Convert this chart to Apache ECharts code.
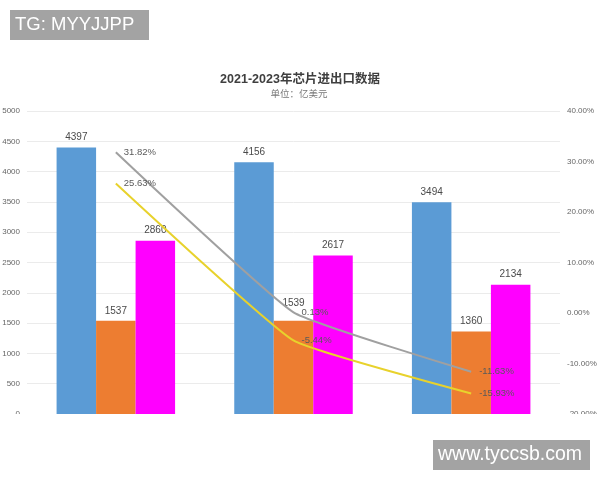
<!DOCTYPE html>
<html lang="zh">
<head>
    <meta charset="UTF-8">
    <title>2021-2023年芯片进出口数据</title>
    <script src="https://cdn.jsdelivr.net/npm/echarts@6/dist/echarts.min.js"></script>
    <style>
        html, body { margin: 0; padding: 0; background: #fff; }
    </style>
</head>
<body>
<div id="box1" style="width: 600px;height: 480px"></div>
<script>
    var years = ['2021', '2022', '2023'];
    var importValues = [4397, 4156, 3494];
    var exportValues = [1537, 1539, 1360];
    var surplusValues = [2860, 2617, 2134];
    var importGrowth = [31.82, 0.13, -11.63];
    var exportGrowth = [25.63, -5.44, -15.93];

    var font = '"Liberation Sans", "Noto Sans CJK SC", sans-serif';
    var mychart = echarts.init(document.getElementById("box1"));

    function barSeries(name, values, color) {
        return {
            name: name,
            type: 'bar',
            data: values,
            barWidth: 39.5,
            barGap: 0,
            itemStyle: { color: color },
            label: {
                show: true,
                position: 'top',
                distance: 5,
                color: '#4a4a4a',
                fontSize: 10,
                fontFamily: font
            }
        };
    }

    function lineSeries(name, values, color) {
        return {
            name: name,
            type: 'line',
            yAxisIndex: 1,
            data: values,
            smooth: 0.12,
            symbol: 'circle',
            symbolSize: 0,
            showSymbol: true,
            z: 5,
            lineStyle: { color: color, width: 2 },
            label: {
                show: true,
                position: 'right',
                distance: 8,
                color: '#5a5a5a',
                fontSize: 9.5,
                fontFamily: font,
                formatter: function (p) {
                    return p.value.toFixed(2) + '%';
                }
            }
        };
    }

    var exportSeries = barSeries('出口', exportValues, '#ed7d31');
    // the middle label sits higher in the source, it dodges the grey line
    exportSeries.data = exportValues.map(function (v, i) {
        return i === 1 ? { value: v, label: { offset: [0, -7] } } : v;
    });

    var option = {
        animation: false,
        backgroundColor: '#fff',
        title: [{
            text: '2021-2023年芯片进出口数据',
            left: 295,
            top: 68,
            textAlign: 'center',
            textStyle: { fontSize: 12.5, fontWeight: 'bold', color: '#3f3f3f', fontFamily: font }
        }, {
            text: '单位：亿美元',
            left: 294,
            top: 85,
            textAlign: 'center',
            textStyle: { fontSize: 9.5, fontWeight: 'normal', color: '#777', fontFamily: font }
        }],
        grid: { left: 27, right: 40, top: 111, height: 303, outerBoundsMode: 'none' },
        xAxis: {
            type: 'category',
            data: years,
            axisLine: { show: false },
            axisTick: { show: false },
            axisLabel: { show: false }
        },
        yAxis: [{
            type: 'value',
            min: 0,
            max: 5000,
            interval: 500,
            axisLine: { show: false },
            axisTick: { show: false },
            axisLabel: {
                color: '#666',
                fontSize: 8,
                margin: 7,
                fontFamily: font,
                formatter: function (v) {
                    return String(v);
                }
            },
            splitLine: { lineStyle: { color: '#ebebeb', width: 1 } }
        }, {
            type: 'value',
            min: -20,
            max: 40,
            interval: 10,
            axisLine: { show: false },
            axisTick: { show: false },
            axisLabel: {
                color: '#666',
                fontSize: 8,
                margin: 7,
                fontFamily: font,
                formatter: function (v) {
                    return v.toFixed(2) + '%';
                }
            },
            splitLine: { show: false }
        }],
        series: [
            barSeries('进口', importValues, '#5b9bd5'),
            exportSeries,
            barSeries('逆差', surplusValues, '#ff00ff'),
            lineSeries('进口增速', importGrowth, '#a0a0a0'),
            lineSeries('出口增速', exportGrowth, '#e8d22c')
        ],
        graphic: [
            // the source image is cut off just under the zero line
            { type: 'rect', z: 100, shape: { x: 0, y: 414, width: 600, height: 66 }, style: { fill: '#fff' } },
            { type: 'rect', z: 101, shape: { x: 10, y: 10, width: 139, height: 30 }, style: { fill: '#a3a3a3' } },
            { type: 'text', z: 102, x: 15, y: 25, style: { text: 'TG: MYYJJPP', fill: '#fff', font: '18.5px ' + font, textVerticalAlign: 'middle' } },
            { type: 'rect', z: 101, shape: { x: 433, y: 440, width: 157, height: 30 }, style: { fill: '#a3a3a3' } },
            { type: 'text', z: 102, x: 438, y: 455, style: { text: 'www.tyccsb.com', fill: '#fff', font: '19.5px ' + font, textVerticalAlign: 'middle' } }
        ]
    };
    mychart.setOption(option);
</script>
</body>
</html>
